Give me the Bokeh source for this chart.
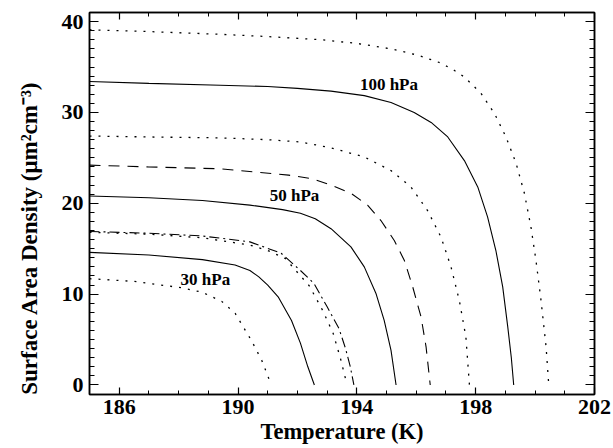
from bokeh.plotting import figure
from bokeh.models import FixedTicker, LinearAxis, Range1d
from bokeh.core.properties import value
from bokeh.embed import file_html
from bokeh.resources import INLINE

# ---- data ----
T1 = [185.0, 187.0, 189.4, 191.0, 192.8, 194.0, 195.15, 196.06, 196.77, 197.2, 197.62, 198.18, 198.63, 199.02, 199.36, 199.64, 199.86, 200.03, 200.2, 200.37, 200.46]
S1 = [39.1, 38.9, 38.6, 38.35, 38.0, 37.6, 37.0, 36.3, 35.5, 34.8, 33.9, 32.1, 29.9, 27.3, 24.4, 21.1, 17.4, 13.7, 9.3, 4.2, 0.0]

T2 = [185.0, 187.0, 189.4, 191.0, 192.0, 193.13, 194.25, 195.15, 195.93, 196.5, 197.06, 197.62, 198.07, 198.4, 198.68, 198.91, 199.08, 199.2, 199.28]
S2 = [33.4, 33.2, 33.0, 32.85, 32.65, 32.35, 31.85, 31.1, 30.0, 28.9, 27.3, 24.7, 21.8, 18.5, 14.8, 10.8, 6.4, 3.0, 0.0]

T3 = [185.0, 187.0, 189.4, 191.0, 192.1, 193.13, 194.25, 195.15, 195.82, 196.38, 196.83, 197.17, 197.45, 197.67, 197.79]
S3 = [27.4, 27.3, 27.2, 27.0, 26.75, 26.1, 25.1, 23.6, 21.8, 19.2, 16.3, 13.0, 9.3, 5.3, 0.0]

T4 = [185.0, 187.0, 189.4, 191.7, 192.5, 193.13, 193.8, 194.36, 194.81, 195.26, 195.6, 195.88, 196.16, 196.33, 196.47]
S4 = [24.2, 24.0, 23.8, 23.1, 22.7, 22.0, 21.1, 19.8, 18.1, 15.9, 13.7, 10.8, 7.5, 4.2, 0.0]

T5 = [185.0, 187.0, 188.8, 190.4, 191.5, 192.1, 192.6, 193.13, 193.8, 194.25, 194.64, 194.92, 195.15, 195.32]
S5 = [20.8, 20.6, 20.3, 19.8, 19.3, 18.9, 18.3, 17.2, 15.2, 13.0, 10.1, 7.1, 3.8, 0.0]

T6 = [185.0, 187.0, 188.8, 190.4, 191.45, 192.1, 192.55, 193.0, 193.4, 193.62, 193.78, 193.9]
S6 = [16.9, 16.7, 16.4, 15.75, 14.5, 12.6, 11.2, 8.6, 6.2, 4.0, 2.0, 0.0]

T7 = [185.0, 187.0, 188.8, 190.4, 191.0, 191.6, 192.05, 192.4, 192.85, 193.2, 193.45, 193.67]
S7 = [16.8, 16.6, 16.2, 15.4, 14.8, 13.9, 12.2, 10.9, 8.2, 5.7, 2.9, 0.0]

T8 = [185.0, 187.0, 188.8, 189.9, 190.4, 190.7, 191.0, 191.35, 191.8, 192.1, 192.35, 192.57]
S8 = [14.6, 14.3, 13.8, 13.2, 12.6, 11.9, 11.0, 9.7, 7.1, 4.6, 2.0, 0.0]

T9 = [185.0, 186.5, 188.1, 188.8, 189.45, 189.9, 190.45, 190.8, 191.12]
S9 = [11.7, 11.4, 10.7, 10.2, 9.2, 7.9, 4.9, 2.7, 0.0]

label_text = ["100 hPa", "50 hPa", "30 hPa"]
label_T = [195.08, 191.9, 188.9]
label_S = [33.1, 20.9, 11.6]

x_major = [186, 190, 194, 198, 202]
x_minor = list(range(185, 203))
y_major = [0, 10, 20, 30, 40]
y_minor = list(range(0, 42))

x_title = "Temperature (K)"
# trailing no-break spaces push the centred title towards the bottom, as in the reference
y_title = "Surface Area Density (\u03bcm\u00b2cm\u207b\u00b3)" + "\u00a0" * 12

FONT = "Liberation Serif"

p = figure(width=613, height=448, output_backend="svg", toolbar_location=None,
           x_range=Range1d(185, 202), y_range=Range1d(-1.05, 41.0),
           min_border_left=89, min_border_right=19, min_border_top=12, min_border_bottom=54,
           x_axis_label=x_title, y_axis_label=y_title)
p.grid.visible = False
p.background_fill_color = "white"
p.border_fill_color = "white"
p.outline_line_color = "black"
p.outline_line_width = 1.5

dot = "2 7"
p.line(T1, S1, line_color="black", line_width=1.3, line_dash=dot)
p.line(T2, S2, line_color="black", line_width=1.1)
p.line(T3, S3, line_color="black", line_width=1.3, line_dash=dot)
p.line(T4, S4, line_color="black", line_width=1.1, line_dash="11 8")
p.line(T5, S5, line_color="black", line_width=1.1)
p.line(T6, S6, line_color="black", line_width=1.1, line_dash="10 4 2 4")
p.line(T7, S7, line_color="black", line_width=1.3, line_dash=dot)
p.line(T8, S8, line_color="black", line_width=1.1)
p.line(T9, S9, line_color="black", line_width=1.3, line_dash=dot)

p.text(x=label_T, y=label_S, text=label_text, text_font=value(FONT),
       text_font_style="bold", text_font_size="17px", text_color="black",
       text_align="center", text_baseline="middle")

# axes
xt = FixedTicker(ticks=x_major, minor_ticks=x_minor)
yt = FixedTicker(ticks=y_major, minor_ticks=y_minor)


def style(ax, ticker, major_len, minor_len, show_labels):
    ax.ticker = ticker
    ax.axis_line_color = "black"
    ax.axis_line_width = 1.5
    ax.major_tick_in = major_len
    ax.major_tick_out = 0
    ax.minor_tick_in = minor_len
    ax.minor_tick_out = 0
    ax.major_tick_line_color = "black"
    ax.minor_tick_line_color = "black"
    ax.major_tick_line_width = 1.2
    ax.minor_tick_line_width = 1.0
    ax.major_label_text_font = FONT
    ax.major_label_text_font_style = "bold"
    ax.major_label_text_font_size = "22px"
    ax.major_label_text_color = "black" if show_labels else None
    ax.axis_label_text_font = FONT
    ax.axis_label_text_font_style = "bold"
    ax.axis_label_text_font_size = "22px"
    ax.axis_label_text_color = "black"


for ax in p.xaxis:
    style(ax, xt, 7, 4, True)
    ax.major_label_standoff = 5
    ax.axis_label_standoff = 2
    ax.axis_label_text_font_size = "22.5px"
for ax in p.yaxis:
    style(ax, yt, 9, 5, True)
    ax.major_label_standoff = 6
    ax.axis_label_standoff = 17
    ax.axis_label_text_font_size = "23px"

top = LinearAxis()
style(top, xt, 7, 4, False)
top.major_label_text_font_size = "0px"
p.add_layout(top, "above")
right = LinearAxis()
style(right, yt, 9, 5, False)
right.major_label_text_font_size = "0px"
p.add_layout(right, "right")

open("out.html", "w").write(file_html(p, INLINE))
